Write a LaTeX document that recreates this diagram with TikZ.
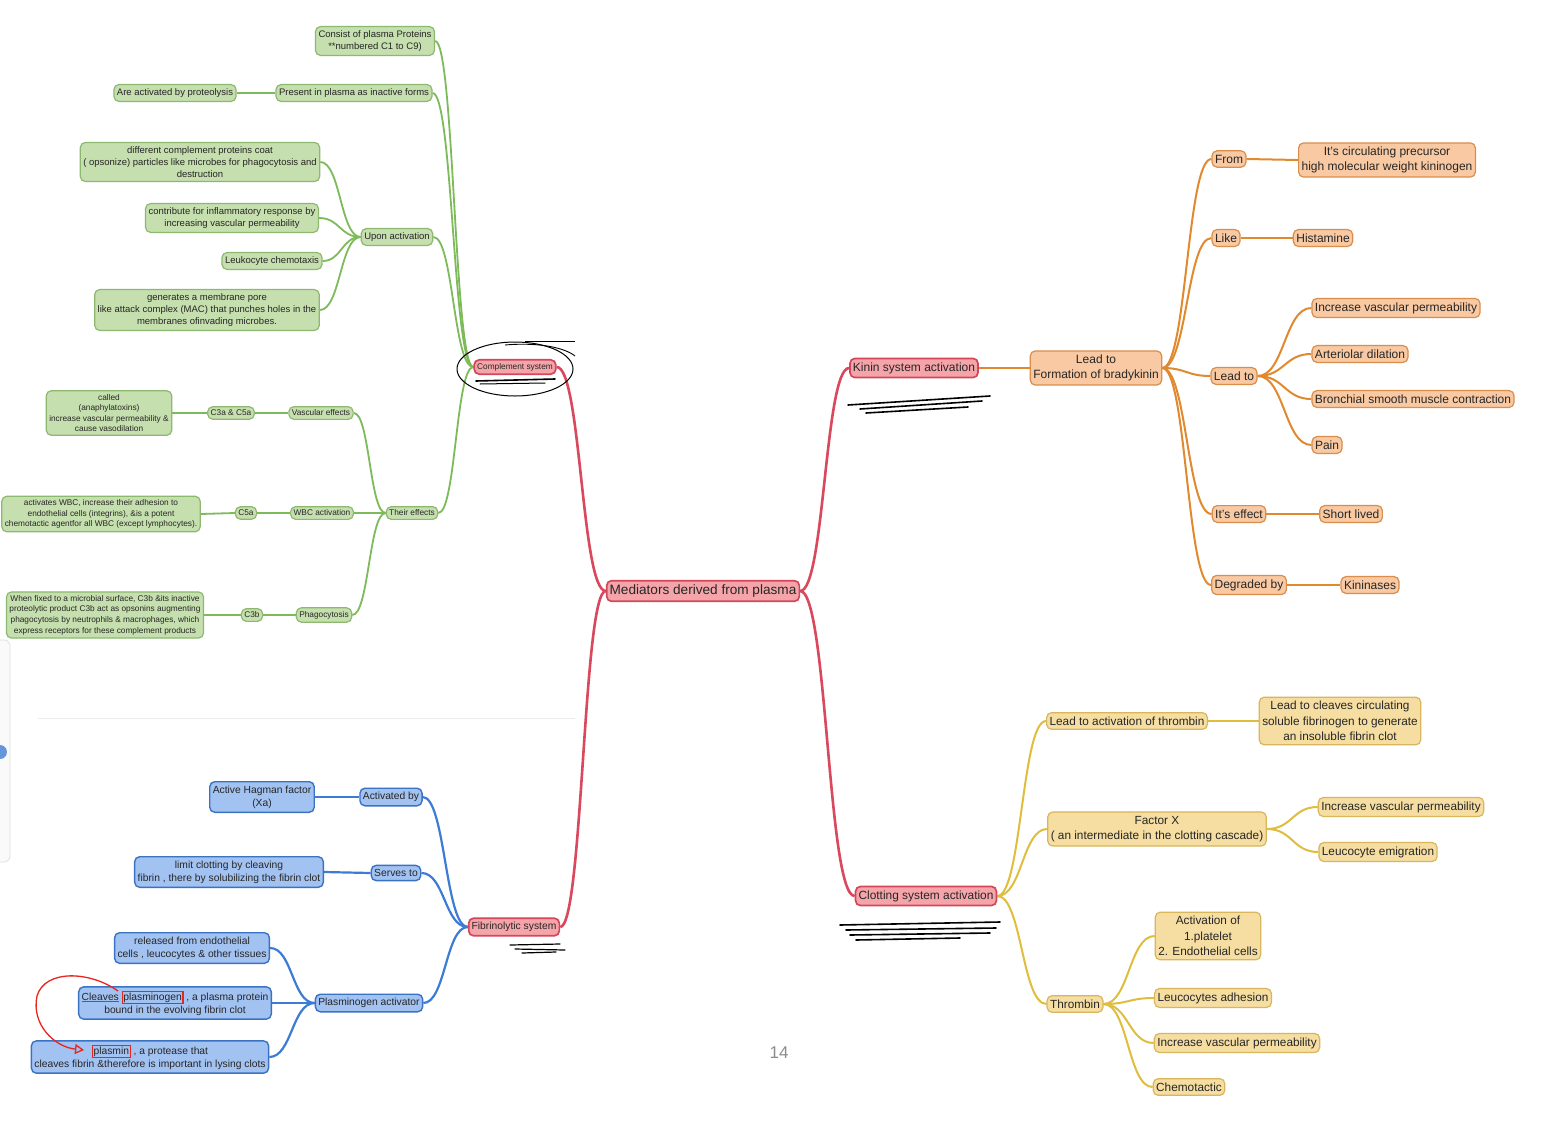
\documentclass[tikz,border=0pt]{standalone}
\usepackage{fontspec}
\setmainfont{Liberation Sans}
\usetikzlibrary{calc,arrows.meta}
\pgfdeclarelayer{bg}
\pgfsetlayers{bg,main}
\definecolor{txt}{HTML}{262626}
\definecolor{gFill}{HTML}{C6DFAE}
\definecolor{gBord}{HTML}{8DB870}
\definecolor{gLine}{HTML}{7DBA5A}
\definecolor{rFill}{HTML}{F5A5AA}
\definecolor{rBord}{HTML}{D2485A}
\definecolor{rLine}{HTML}{D9485C}
\definecolor{oFill}{HTML}{F8C9A2}
\definecolor{oBord}{HTML}{D98E4C}
\definecolor{oLine}{HTML}{E0892E}
\definecolor{yFill}{HTML}{F6DEA2}
\definecolor{yBord}{HTML}{D8B65C}
\definecolor{yLine}{HTML}{E0BD3C}
\definecolor{bFill}{HTML}{A2C2F2}
\definecolor{bBord}{HTML}{3B73C4}
\definecolor{bLine}{HTML}{3D7CD4}
\definecolor{annRed}{HTML}{E8261E}
\newcommand{\lnk}[3]{\draw[#1] let \p1=(#2), \p2=(#3) in (\p1) .. controls ({(\x1+\x2)/2},\y1) and ({(\x1+\x2)/2},\y2) .. (\p2);}
\newcommand{\rbox}[1]{{\setlength{\fboxsep}{0.6pt}\setlength{\fboxrule}{1.1pt}\fcolorbox{annRed}{bFill}{#1}}}
\newcommand{\ulred}[1]{{\color{annRed}\underline{\color{txt}#1}}}
\begin{document}
\begin{tikzpicture}[x=1pt,y=-1pt,
  nd/.style={rounded corners=5pt, line width=1.2pt, align=center, inner xsep=3pt, inner ysep=4pt, text=txt},
  gn/.style={nd, draw=gBord, fill=gFill, font=\fontsize{9.5}{12}\selectfont},
  gs/.style={nd, draw=gBord, fill=gFill, inner ysep=3.3pt, font=\fontsize{8.3}{10.6}\selectfont},
  rn/.style={nd, draw=rBord, fill=rFill, line width=1.7pt},
  on/.style={nd, draw=oBord, fill=oFill, font=\fontsize{12}{15}\selectfont},
  yn/.style={nd, draw=yBord, fill=yFill, font=\fontsize{11.8}{15.5}\selectfont},
  bn/.style={nd, draw=bBord, fill=bFill, line width=1.4pt, font=\fontsize{10.3}{13}\selectfont},
  rl/.style={draw=rLine, line width=2.6pt},
  gl/.style={draw=gLine, line width=1.8pt},
  ol/.style={draw=oLine, line width=2pt},
  yl/.style={draw=yLine, line width=2pt},
  bl/.style={draw=bLine, line width=2.2pt},
  scrib/.style={draw=black, line width=1.6pt, line cap=round}]
\begin{pgfonlayer}{bg}
\fill[white] (0,0) rectangle (1542,1124);
\end{pgfonlayer}
\useasboundingbox (0,0) rectangle (1542,1124);

% faint decorations of the page
\draw[black!8, line width=0.8pt] (38,718) -- (575,718);
\draw[black!12, line width=0.8pt, rounded corners=6pt, fill=black!2] (-20,640) rectangle (10,862);
\fill[bLine!80] (0,752) circle (7);
\node[text=black!45, font=\fontsize{17}{20}\selectfont] (pg) at (779,1053) {14};

% ---------- main red nodes ----------
\node[rn, font=\fontsize{13.6}{16}\selectfont, inner ysep=4pt] (c) at (703,591) {Mediators derived from plasma};
\node[rn, inner ysep=3.3pt, font=\fontsize{8.3}{10}\selectfont] (cs) at (515,367) {Complement system};
\node[rn, font=\fontsize{12}{14}\selectfont] (kn) at (914,368) {Kinin system activation};
\node[rn, font=\fontsize{11.9}{14}\selectfont] (cl) at (926,896) {Clotting system activation};
\node[rn, font=\fontsize{10.3}{12}\selectfont] (fb) at (514,927) {Fibrinolytic system};

% ---------- green ----------
\node[gn] (g1) at (375,41) {Consist of plasma Proteins\\**numbered C1 to C9)};
\node[gn] (g2) at (354,93) {Present in plasma as inactive forms};
\node[gn] (g2a) at (175,93) {Are activated by proteolysis};
\node[gn] (g3) at (397,237) {Upon activation};
\node[gn] (g3a) at (200,162) {different complement proteins coat\\( opsonize) particles like microbes for phagocytosis and\\destruction};
\node[gn] (g3b) at (232,218) {contribute for inflammatory response by\\increasing vascular permeability};
\node[gn] (g3c) at (272,261) {Leukocyte chemotaxis};
\node[gn] (g3d) at (207,310) {generates a membrane pore\\like attack complex (MAC) that punches holes in the\\membranes ofinvading microbes.};
\node[gs] (g4) at (412,513) {Their effects};
\node[gs] (g4a) at (321,413) {Vascular effects};
\node[gs] (g4a1) at (231,413) {C3a \& C5a};
\node[gs] (g4a2) at (109,413) {called\\(anaphylatoxins)\\increase vascular permeability \&\\cause vasodilation};
\node[gs] (g4b) at (322,513) {WBC activation};
\node[gs] (g4b1) at (246,513) {C5a};
\node[gs] (g4b2) at (101,514) {activates WBC, increase their adhesion to\\endothelial cells (integrins), \&is a potent\\chemotactic agentfor all WBC (except lymphocytes).};
\node[gs] (g4c) at (324,615) {Phagocytosis};
\node[gs] (g4c1) at (252,615) {C3b};
\node[gs] (g4c2) at (105,615) {When fixed to a microbial surface, C3b \&its inactive\\proteolytic product C3b act as opsonins augmenting\\phagocytosis by neutrophils \& macrophages, which\\express receptors for these complement products};

% ---------- blue ----------
\node[bn] (b1) at (391,797) {Activated by};
\node[bn] (b1a) at (262,797) {Active Hagman factor\\(Xa)};
\node[bn] (b2) at (396,873) {Serves to};
\node[bn] (b2a) at (229,872) {limit clotting by cleaving\\fibrin , there by solubilizing the fibrin clot};
\node[bn] (b3) at (369,1003) {Plasminogen activator};
\node[bn] (b3a) at (192,948) {released from endothelial\\cells , leucocytes \& other tissues};
\node[bn] (b3b) at (175,1003) {\ulred{Cleaves} \rbox{plasminogen} , a plasma protein\\bound in the evolving fibrin clot};
\node[bn] (b3c) at (150,1057) {\rbox{plasmin} , a protease that\\cleaves fibrin \&therefore is important in lysing clots};

% ---------- orange ----------
\node[on] (o1) at (1096,368) {Lead to\\Formation of bradykinin};
\node[on] (o2) at (1229,159) {From};
\node[on] (o2a) at (1387,160) {It's circulating precursor\\high molecular weight kininogen};
\node[on] (o3) at (1226,238) {Like};
\node[on] (o3a) at (1323,238) {Histamine};
\node[on] (o4) at (1234,376) {Lead to};
\node[on] (o4a) at (1396,308) {Increase vascular permeability};
\node[on] (o4b) at (1360,354) {Arteriolar dilation};
\node[on] (o4c) at (1413,399) {Bronchial smooth muscle contraction};
\node[on] (o4d) at (1327,445) {Pain};
\node[on] (o5) at (1239,514) {It's effect};
\node[on] (o5a) at (1351,514) {Short lived};
\node[on] (o6) at (1249,585) {Degraded by};
\node[on] (o6a) at (1370,585) {Kininases};

% ---------- yellow ----------
\node[yn] (y1) at (1127,721) {Lead to activation of thrombin};
\node[yn] (y1a) at (1340,721) {Lead to cleaves circulating\\soluble fibrinogen to generate\\an insoluble fibrin clot};
\node[yn] (y2) at (1157,829) {Factor X\\( an intermediate in the clotting cascade)};
\node[yn] (y2a) at (1401,807) {Increase vascular permeability};
\node[yn] (y2b) at (1378,852) {Leucocyte emigration};
\node[yn] (y3) at (1075,1004) {Thrombin};
\node[yn] (y3a) at (1208,936) {Activation of\\1.platelet\\2. Endothelial cells};
\node[yn] (y3b) at (1213,998) {Leucocytes adhesion};
\node[yn] (y3c) at (1237,1043) {Increase vascular permeability};
\node[yn] (y3d) at (1189,1087) {Chemotactic};

% ---------- connectors (behind nodes) ----------
\begin{pgfonlayer}{bg}
% red trunk
\lnk{rl}{c.west}{cs.east}
\lnk{rl}{c.west}{fb.east}
\lnk{rl}{c.east}{kn.west}
\lnk{rl}{c.east}{cl.west}
% green
\lnk{gl}{cs.west}{g1.east}
\lnk{gl}{cs.west}{g2.east}
\lnk{gl}{cs.west}{g3.east}
\lnk{gl}{cs.west}{g4.east}
\lnk{gl}{g2.west}{g2a.east}
\lnk{gl}{g3.west}{g3a.east}
\lnk{gl}{g3.west}{g3b.east}
\lnk{gl}{g3.west}{g3c.east}
\lnk{gl}{g3.west}{g3d.east}
\lnk{gl}{g4.west}{g4a.east}
\lnk{gl}{g4.west}{g4b.east}
\lnk{gl}{g4.west}{g4c.east}
\lnk{gl}{g4a.west}{g4a1.east}
\lnk{gl}{g4a1.west}{g4a2.east}
\lnk{gl}{g4b.west}{g4b1.east}
\lnk{gl}{g4b1.west}{g4b2.east}
\lnk{gl}{g4c.west}{g4c1.east}
\lnk{gl}{g4c1.west}{g4c2.east}
% blue
\lnk{bl}{fb.west}{b1.east}
\lnk{bl}{fb.west}{b2.east}
\lnk{bl}{fb.west}{b3.east}
\lnk{bl}{b1.west}{b1a.east}
\lnk{bl}{b2.west}{b2a.east}
\lnk{bl}{b3.west}{b3a.east}
\lnk{bl}{b3.west}{b3b.east}
\lnk{bl}{b3.west}{b3c.east}
% orange
\lnk{ol}{kn.east}{o1.west}
\lnk{ol}{o1.east}{o2.west}
\lnk{ol}{o1.east}{o3.west}
\lnk{ol}{o1.east}{o4.west}
\lnk{ol}{o1.east}{o5.west}
\lnk{ol}{o1.east}{o6.west}
\lnk{ol}{o2.east}{o2a.west}
\lnk{ol}{o3.east}{o3a.west}
\lnk{ol}{o4.east}{o4a.west}
\lnk{ol}{o4.east}{o4b.west}
\lnk{ol}{o4.east}{o4c.west}
\lnk{ol}{o4.east}{o4d.west}
\lnk{ol}{o5.east}{o5a.west}
\lnk{ol}{o6.east}{o6a.west}
% yellow
\lnk{yl}{cl.east}{y1.west}
\lnk{yl}{cl.east}{y2.west}
\lnk{yl}{cl.east}{y3.west}
\lnk{yl}{y1.east}{y1a.west}
\lnk{yl}{y2.east}{y2a.west}
\lnk{yl}{y2.east}{y2b.west}
\lnk{yl}{y3.east}{y3a.west}
\lnk{yl}{y3.east}{y3b.west}
\lnk{yl}{y3.east}{y3c.west}
\lnk{yl}{y3.east}{y3d.west}
\end{pgfonlayer}

% ---------- hand annotations ----------
\draw[black, line width=1pt] (515,369) ellipse [x radius=58, y radius=27];
\draw[black, line width=0.9pt] (525,341) -- (575,341);
\draw[black, line width=0.9pt] (505,345) .. controls (540,342) and (565,348) .. (575,356);
\draw[scrib] (476,381) -- (555,379);
\draw[scrib, line width=1pt] (480,384) -- (545,383);
\draw[scrib] (848,405) -- (990,396);
\draw[scrib] (860,409) -- (982,401);
\draw[scrib] (866,413) -- (968,407);
\draw[scrib] (840,925) -- (1000,922);
\draw[scrib] (846,930) -- (996,928);
\draw[scrib] (850,935) -- (990,933);
\draw[scrib] (856,940) -- (960,938);
\draw[scrib, line width=1.2pt] (510,945) -- (560,944);
\draw[scrib, line width=1.2pt] (515,949) -- (565,950);
\draw[scrib, line width=1.2pt] (522,953) -- (556,952);
\draw[annRed, line width=1.3pt, -{Triangle[open, length=9pt, width=10pt]}]
  (118,991) .. controls (90,971) and (45,969) .. (37,996) .. controls (31,1025) and (55,1047) .. (84,1050);
\end{tikzpicture}
\end{document}
